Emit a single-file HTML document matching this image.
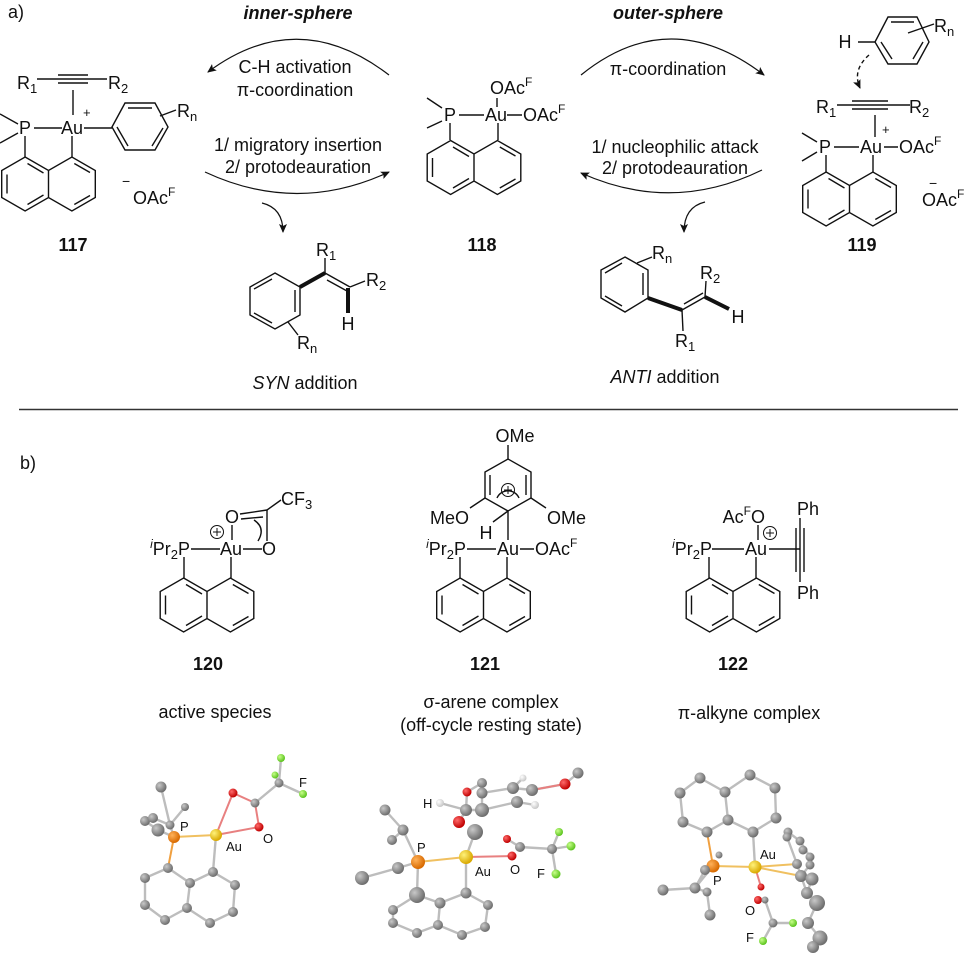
<!DOCTYPE html>
<html><head><meta charset="utf-8">
<style>
html,body{margin:0;padding:0;background:#fff;}
svg{display:block;}
text{font-family:"Liberation Sans",Arial,sans-serif;fill:#111;}
</style></head>
<body>
<svg width="975" height="957" viewBox="0 0 975 957" xmlns="http://www.w3.org/2000/svg">
<defs>
<marker id="ah" markerWidth="10" markerHeight="8" refX="8" refY="4" orient="auto" markerUnits="userSpaceOnUse">
<path d="M0,0 L9,4 L0,8 L2,4 z" fill="#111"/>
</marker>
<g id="naph" fill="none" stroke="#111" stroke-width="1.4">
<path d="M-23.4,-27 L0,-13.5 L23.4,-27 L46.8,-13.5 L46.8,13.5 L23.4,27 L0,13.5 L-23.4,27 L-46.8,13.5 L-46.8,-13.5 Z M0,-13.5 L0,13.5"/>
<path d="M-21,-20.5 L-5,-11 M-41.5,-9.5 L-41.5,9.5 M-21,20.5 L-5,11 M25.8,-20.5 L41.5,-11.5 M25.8,20.5 L41.5,11.5"/>
</g>
<radialGradient id="gg" cx="35%" cy="35%" r="65%"><stop offset="0" stop-color="#c8c8c8"/><stop offset="1" stop-color="#6e6e6e"/></radialGradient>
<radialGradient id="gr" cx="35%" cy="35%" r="65%"><stop offset="0" stop-color="#ff6a6a"/><stop offset="1" stop-color="#c00000"/></radialGradient>
<radialGradient id="gy" cx="35%" cy="35%" r="65%"><stop offset="0" stop-color="#fff27a"/><stop offset="1" stop-color="#d9a800"/></radialGradient>
<radialGradient id="go" cx="35%" cy="35%" r="65%"><stop offset="0" stop-color="#ffb25a"/><stop offset="1" stop-color="#d86a00"/></radialGradient>
<radialGradient id="gf" cx="35%" cy="35%" r="65%"><stop offset="0" stop-color="#c8ff8a"/><stop offset="1" stop-color="#5cc41e"/></radialGradient>
<radialGradient id="gw" cx="35%" cy="35%" r="65%"><stop offset="0" stop-color="#ffffff"/><stop offset="1" stop-color="#c8c8c8"/></radialGradient>
</defs>

<!-- ===== part a ===== -->
<text x="8" y="18" font-size="18">a)</text>
<text x="298" y="19" font-size="18" font-weight="bold" font-style="italic" text-anchor="middle">inner-sphere</text>
<text x="668" y="19" font-size="18" font-weight="bold" font-style="italic" text-anchor="middle">outer-sphere</text>

<g fill="none" stroke="#111" stroke-width="1.2">
<path d="M389,75 Q298,5 208,72" marker-end="url(#ah)"/>
<path d="M581,75 Q670,3 764,75" marker-end="url(#ah)"/>
<path d="M205,172 Q297,215 389,172" marker-end="url(#ah)"/>
<path d="M262,203 Q283,208 283,232" marker-end="url(#ah)"/>
<path d="M762,170 Q672,214 581,173" marker-end="url(#ah)"/>
<path d="M705,202 Q684,207 684,232" marker-end="url(#ah)"/>
</g>
<g font-size="18" text-anchor="middle">
<text x="295" y="73">C-H activation</text>
<text x="295" y="96">π-coordination</text>
<text x="298" y="151">1/ migratory insertion</text>
<text x="298" y="173">2/ protodeauration</text>
<text x="668" y="75">π-coordination</text>
<text x="675" y="153">1/ nucleophilic attack</text>
<text x="675" y="174">2/ protodeauration</text>
</g>

<!-- 117 -->
<g fill="none" stroke="#111" stroke-width="1.4">
<path d="M37,79 L107,79 M58,75 L88,75 M58,83 L88,83"/>
<path d="M73,90 L73,115"/>
<path d="M34,128 L62,128 M84,128 L112,128"/>
<path d="M18,124 L0,114 M18,133 L0,143"/>
<path d="M25,136 L25,157 M72,136 L72,157"/>
<path d="M112,127 L125,103 L155,103 L168,127 L155,150 L125,150 Z"/>
<path d="M128,108 L152,108 M163,128 L152,146 M117,127 L128,146"/>
<path d="M160,116 L176,110"/>
</g>
<use href="#naph" x="48.5" y="184"/>
<g font-size="18">
<text x="17" y="89">R<tspan font-size="13" dy="4">1</tspan></text>
<text x="108" y="89">R<tspan font-size="13" dy="4">2</tspan></text>
<text x="83" y="117" font-size="13">+</text>
<text x="25" y="134" text-anchor="middle">P</text>
<text x="72" y="134" text-anchor="middle">Au</text>
<text x="177" y="117">R<tspan font-size="13" dy="4">n</tspan></text>
<text x="122" y="186" font-size="14">−</text>
<text x="133" y="204">OAc<tspan font-size="12" dy="-8">F</tspan></text>
<text x="73" y="251" font-weight="bold" text-anchor="middle">117</text>
</g>

<!-- 118 -->
<g fill="none" stroke="#111" stroke-width="1.4">
<path d="M442,108 L427,98 M442,121 L427,128"/>
<path d="M459,115 L484,115 M507,115 L522,115"/>
<path d="M497,98 L497,107"/>
<path d="M450,123 L450,140 M498,123 L498,140"/>
</g>
<use href="#naph" x="474" y="167.5"/>
<g font-size="18">
<text x="450" y="121" text-anchor="middle">P</text>
<text x="496" y="121" text-anchor="middle">Au</text>
<text x="490" y="94">OAc<tspan font-size="12" dy="-8">F</tspan></text>
<text x="523" y="121">OAc<tspan font-size="12" dy="-8">F</tspan></text>
<text x="482" y="251" font-weight="bold" text-anchor="middle">118</text>
</g>

<!-- 119 -->
<g fill="none" stroke="#111" stroke-width="1.4">
<path d="M875,42 L888,17 L917,17 L929,42 L917,64 L888,64 Z"/>
<path d="M891,22 L914,22 M923,42 L913,59 M892,59 L881,42"/>
<path d="M858,42 L875,42"/>
<path d="M908,33 L934,24"/>
<path d="M869,55 Q852,70 860,88" stroke-dasharray="4,3" marker-end="url(#ah)"/>
<path d="M837,105 L910,105 M852,101 L888,101 M852,109 L888,109"/>
<path d="M875,115 L875,137"/>
<path d="M834,147 L859,147 M884,147 L898,147"/>
<path d="M817,142 L802,133 M817,152 L802,161"/>
<path d="M826,155 L826,172 M873,155 L873,172"/>
</g>
<use href="#naph" x="849.5" y="199"/>
<g font-size="18">
<text x="845" y="48" text-anchor="middle">H</text>
<text x="934" y="32">R<tspan font-size="13" dy="4">n</tspan></text>
<text x="816" y="113">R<tspan font-size="13" dy="4">1</tspan></text>
<text x="909" y="113">R<tspan font-size="13" dy="4">2</tspan></text>
<text x="882" y="134" font-size="13">+</text>
<text x="825" y="153" text-anchor="middle">P</text>
<text x="871" y="153" text-anchor="middle">Au</text>
<text x="899" y="153">OAc<tspan font-size="12" dy="-8">F</tspan></text>
<text x="929" y="188" font-size="14">−</text>
<text x="922" y="206">OAc<tspan font-size="12" dy="-8">F</tspan></text>
<text x="862" y="251" font-weight="bold" text-anchor="middle">119</text>
</g>

<!-- SYN product -->
<g fill="none" stroke="#111" stroke-width="1.4">
<path d="M275,273 L300,287 L300,315 L275,329 L250,315 L250,287 Z"/>
<path d="M272,279 L254,289 M295,290 L295,312 M272,323 L254,313"/>
<path d="M325,273 L325,258"/>
<path d="M325,273 L350,287 M327,280 L347,291"/>
<path d="M350,287 L365,281"/>
<path d="M288,322 L298,335"/>
</g>
<path d="M300,287 L325,273" stroke="#111" stroke-width="4"/>
<path d="M348,288 L348,313" stroke="#111" stroke-width="4"/>
<g font-size="18">
<text x="316" y="256">R<tspan font-size="13" dy="4">1</tspan></text>
<text x="366" y="286">R<tspan font-size="13" dy="4">2</tspan></text>
<text x="348" y="330" text-anchor="middle">H</text>
<text x="297" y="349">R<tspan font-size="13" dy="4">n</tspan></text>
<text x="305" y="389" text-anchor="middle"><tspan font-style="italic">SYN</tspan> addition</text>
</g>

<!-- ANTI product -->
<g fill="none" stroke="#111" stroke-width="1.4">
<path d="M625,257 L648,270 L648,298 L625,312 L601,298 L601,270 Z"/>
<path d="M622,263 L605,273 M643,273 L643,295 M622,306 L605,296"/>
<path d="M682,310 L705,297 M684,304 L703,293"/>
<path d="M705,297 L706,281"/>
<path d="M682,310 L683,331"/>
<path d="M637,263 L652,257"/>
</g>
<path d="M648,298 L682,310" stroke="#111" stroke-width="4"/>
<path d="M705,297 L729,309" stroke="#111" stroke-width="4"/>
<g font-size="18">
<text x="652" y="259">R<tspan font-size="13" dy="4">n</tspan></text>
<text x="700" y="279">R<tspan font-size="13" dy="4">2</tspan></text>
<text x="738" y="323" text-anchor="middle">H</text>
<text x="675" y="347">R<tspan font-size="13" dy="4">1</tspan></text>
<text x="665" y="383" text-anchor="middle"><tspan font-style="italic">ANTI</tspan> addition</text>
</g>

<line x1="19" y1="409.5" x2="958" y2="409.5" stroke="#333" stroke-width="1.6"/>

<!-- ===== part b ===== -->
<text x="20" y="469" font-size="18">b)</text>

<!-- 120 -->
<g fill="none" stroke="#111" stroke-width="1.4">
<path d="M191,549 L220,549 M243,549 L262,549"/>
<path d="M232,540 L232,525"/>
<path d="M240,514 L267,510 M241,519 L263,517 M267,510 L267,541"/>
<path d="M254,520 Q266,528 258,541"/>
<path d="M267,510 L281,500"/>
<path d="M184,557 L184,578 M231,557 L231,578"/>
<circle cx="217" cy="532" r="6.5" stroke-width="1"/>
<path d="M213,532 L221,532 M217,528 L217,536" stroke-width="1"/>
</g>
<use href="#naph" x="207" y="605"/>
<g font-size="18">
<text x="190" y="555" text-anchor="end"><tspan font-size="12" font-style="italic" dy="-7">i</tspan><tspan dy="7">Pr</tspan><tspan font-size="13" dy="4">2</tspan><tspan dy="-4">P</tspan></text>
<text x="231" y="555" text-anchor="middle">Au</text>
<text x="269" y="555" text-anchor="middle">O</text>
<text x="232" y="523" text-anchor="middle">O</text>
<text x="281" y="505">CF<tspan font-size="13" dy="4">3</tspan></text>
<text x="208" y="670" font-weight="bold" text-anchor="middle">120</text>
</g>

<!-- 121 -->
<g fill="none" stroke="#111" stroke-width="1.4">
<path d="M467,549 L496,549 M520,549 L534,549"/>
<path d="M508,540 L508,511"/>
<path d="M508,511 L485,498 L485,472 L508,459 L531,472 L531,498 Z"/>
<path d="M490,475 L490,495 M526,475 L526,495"/>
<path d="M497,498 A12,12 0 0 1 519,498"/>
<path d="M508,459 L508,445"/>
<path d="M485,498 L470,508 M531,498 L546,508"/>
<path d="M508,511 L493,522"/>
<path d="M460,557 L460,578 M507,557 L507,578"/>
<circle cx="508" cy="490" r="6.5" stroke-width="1"/>
<path d="M504,490 L512,490 M508,486 L508,494" stroke-width="1"/>
</g>
<use href="#naph" x="483.5" y="605"/>
<g font-size="18">
<text x="515" y="442" text-anchor="middle">OMe</text>
<text x="469" y="524" text-anchor="end">MeO</text>
<text x="547" y="524">OMe</text>
<text x="486" y="539" text-anchor="middle">H</text>
<text x="466" y="555" text-anchor="end"><tspan font-size="12" font-style="italic" dy="-7">i</tspan><tspan dy="7">Pr</tspan><tspan font-size="13" dy="4">2</tspan><tspan dy="-4">P</tspan></text>
<text x="508" y="555" text-anchor="middle">Au</text>
<text x="535" y="555">OAc<tspan font-size="12" dy="-8">F</tspan></text>
<text x="485" y="670" font-weight="bold" text-anchor="middle">121</text>
</g>

<!-- 122 -->
<g fill="none" stroke="#111" stroke-width="1.4">
<path d="M712,549 L744,549 M769,549 L800,549"/>
<path d="M758,540 L758,525"/>
<path d="M800,518 L800,582 M796,528 L796,572 M804,528 L804,572"/>
<path d="M709,557 L709,578 M756,557 L756,578"/>
<circle cx="770" cy="533" r="6.5" stroke-width="1"/>
<path d="M766,533 L774,533 M770,529 L770,537" stroke-width="1"/>
</g>
<use href="#naph" x="733" y="605"/>
<g font-size="18">
<text x="712" y="555" text-anchor="end"><tspan font-size="12" font-style="italic" dy="-7">i</tspan><tspan dy="7">Pr</tspan><tspan font-size="13" dy="4">2</tspan><tspan dy="-4">P</tspan></text>
<text x="756" y="555" text-anchor="middle">Au</text>
<text x="765" y="523" text-anchor="end">Ac<tspan font-size="12" dy="-8">F</tspan><tspan dy="8">O</tspan></text>
<text x="808" y="515" text-anchor="middle">Ph</text>
<text x="808" y="599" text-anchor="middle">Ph</text>
<text x="733" y="670" font-weight="bold" text-anchor="middle">122</text>
</g>

<g font-size="18" text-anchor="middle">
<text x="215" y="718">active species</text>
<text x="491" y="708">σ-arene complex</text>
<text x="491" y="731">(off-cycle resting state)</text>
<text x="749" y="719">π-alkyne complex</text>
</g>

<!-- ===== 3D 120 ===== -->
<g stroke="#bdbdbd" stroke-width="2.4" fill="none">
<path d="M161,787 L170,825 L174,837 M153,818 L170,825 M145,821 L158,830 L174,837 M185,807 L170,825"/>
<path d="M168,868 L145,878 L145,905 L165,920 L187,908 L190,883 L168,868 M190,883 L213,872 L235,885 L233,912 L210,923 L187,908"/>
<path d="M213,872 L216,835"/>
<path d="M255,803 L279,783 L281,758 M279,783 L275,775 M279,783 L303,794"/>
</g>
<g stroke-width="2" fill="none">
<path d="M174,837 L168,868" stroke="#f0a040"/>
<path d="M174,837 L216,835" stroke="#f0c060"/>
<path d="M216,835 L233,793 L255,803 L259,827 L216,835" stroke="#e88080"/>
</g>
<g>
<circle cx="161" cy="787" r="5.5" fill="url(#gg)"/><circle cx="185" cy="807" r="4" fill="url(#gg)"/>
<circle cx="145" cy="821" r="5" fill="url(#gg)"/><circle cx="153" cy="818" r="5" fill="url(#gg)"/>
<circle cx="158" cy="830" r="6.5" fill="url(#gg)"/><circle cx="170" cy="825" r="4.5" fill="url(#gg)"/>
<circle cx="174" cy="837" r="6" fill="url(#go)"/><circle cx="216" cy="835" r="6" fill="url(#gy)"/>
<circle cx="233" cy="793" r="4.5" fill="url(#gr)"/><circle cx="255" cy="803" r="4.5" fill="url(#gg)"/>
<circle cx="259" cy="827" r="4.5" fill="url(#gr)"/><circle cx="279" cy="783" r="4.5" fill="url(#gg)"/>
<circle cx="281" cy="758" r="4" fill="url(#gf)"/><circle cx="275" cy="775" r="3.5" fill="url(#gf)"/><circle cx="303" cy="794" r="4" fill="url(#gf)"/>
<circle cx="168" cy="868" r="5" fill="url(#gg)"/><circle cx="213" cy="872" r="5" fill="url(#gg)"/>
<circle cx="145" cy="878" r="5" fill="url(#gg)"/><circle cx="190" cy="883" r="5" fill="url(#gg)"/>
<circle cx="235" cy="885" r="5" fill="url(#gg)"/><circle cx="145" cy="905" r="5" fill="url(#gg)"/>
<circle cx="187" cy="908" r="5" fill="url(#gg)"/><circle cx="233" cy="912" r="5" fill="url(#gg)"/>
<circle cx="165" cy="920" r="5" fill="url(#gg)"/><circle cx="210" cy="923" r="5" fill="url(#gg)"/>
</g>
<g font-size="13">
<text x="180" y="831">P</text><text x="226" y="851">Au</text><text x="263" y="843">O</text><text x="299" y="787">F</text>
</g>

<!-- ===== 3D 121 ===== -->
<g stroke="#bdbdbd" stroke-width="2.4" fill="none">
<path d="M385,810 L403,830 L392,840 M403,830 L418,862 M398,868 L362,878 M398,868 L418,862 M417,895 L418,862"/>
<path d="M466,893 L440,903 L438,925 L462,935 L485,927 L488,905 L466,893 M440,903 L417,895 L393,910 L393,923 L417,933 L438,925"/>
<path d="M466,893 L466,857"/>
<path d="M520,847 L552,849 L559,832 M552,849 L571,846 M552,849 L556,874 M507,839 L520,847"/>
<path d="M466,810 L482,810 L517,802 L535,805 M482,810 L482,793 L513,788 L532,790 L565,784 L578,773 M466,810 L467,792 L482,783 M513,788 L523,778 M440,803 L466,810"/>
<path d="M459,822 L466,810 M475,832 L466,857"/>
</g>
<g stroke-width="2" fill="none">
<path d="M418,862 L466,857" stroke="#f0c060"/>
<path d="M466,857 L512,856" stroke="#e88080"/>
<path d="M565,784 L532,790" stroke="#e88080"/>
</g>
<g>
<circle cx="385" cy="810" r="5.5" fill="url(#gg)"/><circle cx="403" cy="830" r="5.5" fill="url(#gg)"/>
<circle cx="392" cy="840" r="5" fill="url(#gg)"/><circle cx="398" cy="868" r="6" fill="url(#gg)"/>
<circle cx="362" cy="878" r="7" fill="url(#gg)"/><circle cx="417" cy="895" r="8" fill="url(#gg)"/>
<circle cx="418" cy="862" r="7" fill="url(#go)"/><circle cx="466" cy="857" r="7" fill="url(#gy)"/>
<circle cx="459" cy="822" r="6" fill="url(#gr)"/><circle cx="475" cy="832" r="8" fill="url(#gg)"/>
<circle cx="512" cy="856" r="4.5" fill="url(#gr)"/><circle cx="507" cy="839" r="4" fill="url(#gr)"/>
<circle cx="520" cy="847" r="5" fill="url(#gg)"/><circle cx="552" cy="849" r="5" fill="url(#gg)"/>
<circle cx="559" cy="832" r="4" fill="url(#gf)"/><circle cx="571" cy="846" r="4.5" fill="url(#gf)"/><circle cx="556" cy="874" r="4.5" fill="url(#gf)"/>
<circle cx="482" cy="783" r="5" fill="url(#gg)"/><circle cx="467" cy="792" r="4.5" fill="url(#gr)"/>
<circle cx="482" cy="793" r="5.5" fill="url(#gg)"/><circle cx="513" cy="788" r="6" fill="url(#gg)"/>
<circle cx="532" cy="790" r="6" fill="url(#gg)"/><circle cx="523" cy="778" r="3.5" fill="url(#gw)"/>
<circle cx="565" cy="784" r="5.5" fill="url(#gr)"/><circle cx="578" cy="773" r="5.5" fill="url(#gg)"/>
<circle cx="466" cy="810" r="6" fill="url(#gg)"/><circle cx="482" cy="810" r="7" fill="url(#gg)"/>
<circle cx="517" cy="802" r="6" fill="url(#gg)"/><circle cx="535" cy="805" r="4" fill="url(#gw)"/>
<circle cx="440" cy="803" r="4" fill="url(#gw)"/>
<circle cx="466" cy="893" r="5.5" fill="url(#gg)"/><circle cx="440" cy="903" r="5.5" fill="url(#gg)"/>
<circle cx="488" cy="905" r="5" fill="url(#gg)"/><circle cx="393" cy="910" r="5" fill="url(#gg)"/>
<circle cx="393" cy="923" r="5" fill="url(#gg)"/><circle cx="438" cy="925" r="5" fill="url(#gg)"/>
<circle cx="417" cy="933" r="5" fill="url(#gg)"/><circle cx="485" cy="927" r="5" fill="url(#gg)"/>
<circle cx="462" cy="935" r="5" fill="url(#gg)"/>
</g>
<g font-size="13">
<text x="423" y="808">H</text><text x="417" y="852">P</text><text x="475" y="876">Au</text><text x="510" y="874">O</text><text x="537" y="878">F</text>
</g>

<!-- ===== 3D 122 ===== -->
<g stroke="#bdbdbd" stroke-width="2.4" fill="none">
<path d="M700,778 L680,793 L683,822 L707,832 L728,820 L725,792 L700,778 M725,792 L750,775 L775,788 L776,818 L753,832 L728,820"/>
<path d="M753,832 L755,867"/>
<path d="M663,890 L695,888 L707,892 L710,915 M695,888 L705,870 M695,888 L713,866"/>
<path d="M765,900 L773,923 L793,923 M773,923 L763,941"/>
<path d="M788,832 L800,841 L810,857 L810,865 L801,876 L797,864 L787,837 M801,876 L807,893 L817,903 L808,923 L820,938 L813,947 M812,879 L807,893"/>
</g>
<g stroke-width="2" fill="none">
<path d="M713,866 L707,832" stroke="#f0a040"/>
<path d="M713,866 L755,867" stroke="#f0c060"/>
<path d="M755,867 L797,864 M755,867 L801,876" stroke="#f0c060"/>
<path d="M755,867 L761,887" stroke="#e88080"/>
</g>
<g>
<circle cx="700" cy="778" r="5.5" fill="url(#gg)"/><circle cx="750" cy="775" r="5.5" fill="url(#gg)"/>
<circle cx="680" cy="793" r="5.5" fill="url(#gg)"/><circle cx="725" cy="792" r="5.5" fill="url(#gg)"/>
<circle cx="775" cy="788" r="5.5" fill="url(#gg)"/><circle cx="683" cy="822" r="5.5" fill="url(#gg)"/>
<circle cx="728" cy="820" r="5.5" fill="url(#gg)"/><circle cx="776" cy="818" r="5.5" fill="url(#gg)"/>
<circle cx="707" cy="832" r="5.5" fill="url(#gg)"/><circle cx="753" cy="832" r="5.5" fill="url(#gg)"/>
<circle cx="713" cy="866" r="6.5" fill="url(#go)"/><circle cx="755" cy="867" r="6.5" fill="url(#gy)"/>
<circle cx="719" cy="855" r="3.5" fill="url(#gg)"/><circle cx="663" cy="890" r="5.5" fill="url(#gg)"/>
<circle cx="695" cy="888" r="5.5" fill="url(#gg)"/><circle cx="705" cy="870" r="5" fill="url(#gg)"/>
<circle cx="707" cy="892" r="4.5" fill="url(#gg)"/><circle cx="710" cy="915" r="5.5" fill="url(#gg)"/>
<circle cx="761" cy="887" r="3.5" fill="url(#gr)"/><circle cx="758" cy="900" r="4" fill="url(#gr)"/>
<circle cx="765" cy="900" r="3.5" fill="url(#gg)"/><circle cx="773" cy="923" r="4.5" fill="url(#gg)"/>
<circle cx="793" cy="923" r="4" fill="url(#gf)"/><circle cx="763" cy="941" r="4" fill="url(#gf)"/>
<circle cx="788" cy="832" r="4.5" fill="url(#gg)"/><circle cx="787" cy="837" r="4.5" fill="url(#gg)"/>
<circle cx="800" cy="841" r="4.5" fill="url(#gg)"/><circle cx="803" cy="850" r="4.5" fill="url(#gg)"/>
<circle cx="810" cy="857" r="4.5" fill="url(#gg)"/><circle cx="797" cy="864" r="5" fill="url(#gg)"/>
<circle cx="810" cy="865" r="4.5" fill="url(#gg)"/><circle cx="801" cy="876" r="6" fill="url(#gg)"/>
<circle cx="812" cy="879" r="6.5" fill="url(#gg)"/><circle cx="807" cy="893" r="6" fill="url(#gg)"/>
<circle cx="817" cy="903" r="8" fill="url(#gg)"/><circle cx="808" cy="923" r="6" fill="url(#gg)"/>
<circle cx="820" cy="938" r="7.5" fill="url(#gg)"/><circle cx="813" cy="947" r="6" fill="url(#gg)"/>
</g>
<g font-size="13">
<text x="760" y="859">Au</text><text x="713" y="885">P</text><text x="745" y="915">O</text><text x="746" y="942">F</text>
</g>
</svg>
</body></html>
